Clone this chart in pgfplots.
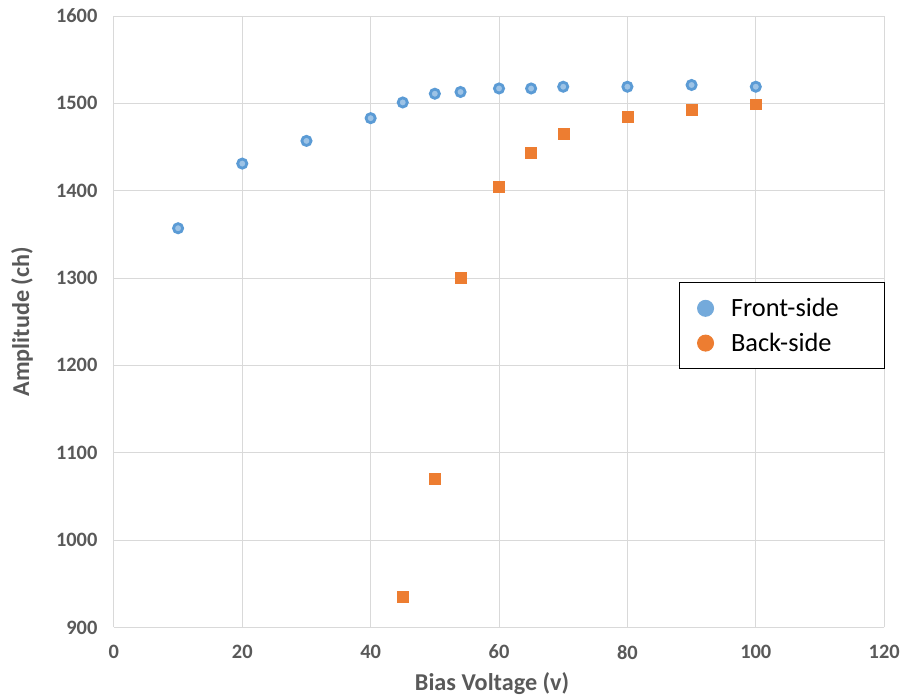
\documentclass[border=0pt]{standalone}
\usepackage{pgfplots}
\pgfplotsset{compat=1.18}
\usepackage{fontspec}
\setmainfont{Carlito}
\definecolor{fblue}{HTML}{5B9BD5}
\definecolor{lblue}{HTML}{9DC3E6}
\definecolor{borange}{HTML}{ED7D31}
\definecolor{tgray}{HTML}{595959}
\definecolor{ggray}{HTML}{D9D9D9}
\begin{document}
\begin{tikzpicture}
\begin{axis}[
  scale only axis,
  width=771bp, height=612bp,
  xmin=0, xmax=120, ymin=900, ymax=1600,
  xtick={0,20,...,120}, ytick={900,1000,...,1600},
  grid=major,
  major grid style={ggray, line width=0.9pt},
  axis line style={draw=none},
  tick style={draw=none},
  /pgf/number format/assume math mode=true,
  /pgf/number format/1000 sep={},
  ticklabel style={font=\fontsize{20.5}{24}\selectfont\bfseries, text=tgray},
  yticklabel style={xshift=-13bp},
  xticklabel style={yshift=-14bp},
  xlabel={Bias Voltage (v)}, ylabel={Amplitude (ch)},
  label style={font=\fontsize{24.3}{28}\selectfont\bfseries, text=tgray},
  xlabel style={at={(axis description cs:0.5,0)}, anchor=center, yshift=-56bp, xshift=-7bp},
  ylabel style={at={(axis description cs:0,0.5)}, anchor=center, yshift=92bp},
  legend style={at={(rel axis cs:0.733,0.565)}, anchor=north west,
    draw=black, line width=1pt, font=\fontsize{26.5}{31}\selectfont,
    row sep=11bp, inner xsep=6bp, inner ysep=14bp},
  legend cell align=left,
]
\addplot[only marks, mark=*, mark size=4.6bp,
  mark options={draw=fblue, fill=lblue, line width=2.8bp},
  legend image code/.code={\path (0,0); \fill[fblue!85] (0.25cm+13bp,0cm) circle (8bp);}]
coordinates {(10,1357) (20,1431) (30,1457) (40,1483) (45,1501) (50,1511) (54,1513) (60,1517) (65,1517) (70,1519) (80,1519) (90,1521) (100,1519)};
\addlegendentry{\hspace{15bp}\makebox[146bp][l]{Front-side}}
\addplot[only marks, mark=square*, mark size=5.5bp,
  mark options={draw=borange, fill=borange, rounded corners=2.5bp},
  legend image code/.code={\path (0,0); \fill[borange] (0.25cm+13bp,0cm) circle (8bp);}]
coordinates {(45,935) (50,1070) (54,1300) (60,1405) (65,1443) (70,1465) (80,1485) (90,1493) (100,1499)};
\addlegendentry{\hspace{15bp}\makebox[146bp][l]{Back-side}}
\end{axis}
\path (current axis.south west) ++(-114bp,-71bp) (current axis.north east) ++(18bp,16bp);
\end{tikzpicture}
\end{document}
